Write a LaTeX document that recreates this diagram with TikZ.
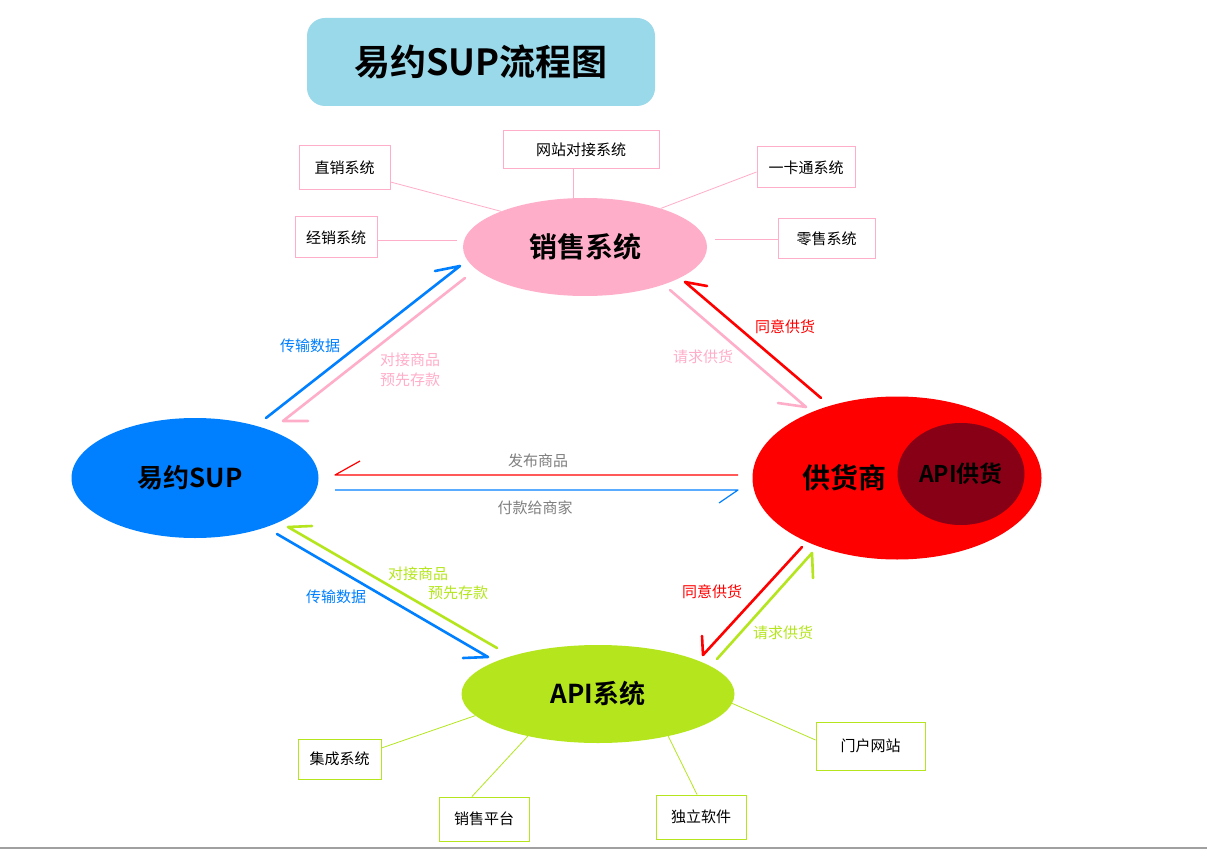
\documentclass[tikz,border=0pt]{standalone}
\usepackage{fontspec}
\setmainfont{Noto Sans CJK SC}[BoldFont={Noto Sans CJK SC Bold}]
\usetikzlibrary{shapes.geometric}
\definecolor{titlebg}{HTML}{99D9EA}
\definecolor{pinkc}{HTML}{FFAEC9}
\definecolor{bluec}{HTML}{0080FF}
\definecolor{redc}{HTML}{FF0000}
\definecolor{darkredc}{HTML}{880015}
\definecolor{greenc}{HTML}{B5E61D}
\definecolor{grayc}{HTML}{7F7F7F}
\definecolor{rulec}{HTML}{A0A0A0}
\begin{document}
\begin{tikzpicture}[x=1pt,y=-1pt,
  box/.style={draw, line width=1pt, fill=white, inner sep=0pt, font=\fontsize{15}{18}\selectfont},
  pbox/.style={box, draw=pinkc},
  gbox/.style={box, draw=greenc},
  oval/.style={ellipse, inner sep=0pt, font=\bfseries\fontsize{28}{32}\selectfont},
  pinkline/.style={draw=pinkc, line width=0.8pt},
  greenline/.style={draw=greenc, line width=0.8pt},
  arr/.style={line width=2.6pt, line cap=round, line join=round},
  thinarr/.style={line width=1.2pt, line join=round},
  lab/.style={inner sep=0pt, font=\fontsize{15}{18}\selectfont}
]
\useasboundingbox (0,0) rectangle (1207,850);
\fill[white] (0,0) rectangle (1207,850);
\draw[rulec, line width=2pt] (0,848) -- (1207,848);

% title
\node[fill=titlebg, rounded corners=18pt, minimum width=348pt, minimum height=88pt, inner sep=0pt,
  font=\bfseries\fontsize{36}{40}\selectfont] (title) at (481,62) {易约SUP流程图};

% main ellipses
\node[oval, fill=pinkc, minimum width=244pt, minimum height=98pt] (xs) at (585,247) {销售系统};
\node[oval, fill=bluec, minimum width=247pt, minimum height=120pt, font=\bfseries\fontsize{26}{30}\selectfont] (sup) at (195,478) {};
\node[font=\bfseries\fontsize{26}{30}\selectfont, inner sep=0pt] (suptxt) at (190,478) {易约SUP};
\node[oval, fill=redc, minimum width=289pt, minimum height=163pt] (gh) at (897,478) {};
\node[ellipse, fill=darkredc, minimum width=127pt, minimum height=102pt, inner sep=0pt] (apig) at (961,474) {};
\node[inner sep=0pt, font=\bfseries\fontsize{28}{32}\selectfont] (ghtxt) at (844,478) {供货商};
\node[inner sep=0pt, font=\bfseries\fontsize{23}{27}\selectfont] (apigtxt) at (961,474) {API供货};
\node[oval, fill=greenc, minimum width=273pt, minimum height=98pt, font=\bfseries\fontsize{26}{30}\selectfont] (api) at (598,694) {API系统};

% top boxes
\node[pbox, minimum width=91pt, minimum height=44pt] (zx) at (344.5,168) {直销系统};
\node[pbox, minimum width=156pt, minimum height=38pt] (wz) at (581,150) {网站对接系统};
\node[pbox, minimum width=98pt, minimum height=41pt] (yk) at (806,167.5) {一卡通系统};
\node[pbox, minimum width=82pt, minimum height=41pt] (jx) at (336,237.5) {经销系统};
\node[pbox, minimum width=97pt, minimum height=40pt] (ls) at (826.5,239) {零售系统};

\draw[pinkline] (zx.east |- 0,182) -- (xs.157);
\draw[pinkline] ([xshift=-8pt]wz.south) -- ([xshift=-8pt]wz.south |- xs.north);
\draw[pinkline] (yk.west |- 0,172) -- (xs.27);
\draw[pinkline] (jx.east |- 0,240) -- ([xshift=-6pt]xs.west |- 0,240);
\draw[pinkline] (ls.west) -- ([xshift=8pt]xs.east |- ls.west);

% bottom boxes
\node[gbox, minimum width=83pt, minimum height=40pt] (jc) at (339.5,759) {集成系统};
\node[gbox, minimum width=90pt, minimum height=44pt] (xp) at (484,819) {销售平台};
\node[gbox, minimum width=90pt, minimum height=44pt] (dl) at (701,817) {独立软件};
\node[gbox, minimum width=109pt, minimum height=48pt] (mh) at (870.5,746) {门户网站};

\draw[greenline] (jc.east |- 0,748) -- (api.190);
\draw[greenline] ([xshift=-12pt]xp.north) -- (api.211);
\draw[greenline] ([xshift=-4pt]dl.north) -- (api.329);
\draw[greenline] (mh.west |- 0,740) -- (api.356);

% arrow end points
\coordinate (a1s) at (266,418); \coordinate (a1t) at (460,266); \coordinate (a1b) at (435,271);
\coordinate (a2s) at (465,278); \coordinate (a2t) at (283,421); \coordinate (a2b) at (308,421);
\coordinate (a3s) at (670,290); \coordinate (a3t) at (806,407); \coordinate (a3b) at (778,403);
\coordinate (a4s) at (821,398); \coordinate (a4t) at (685,282); \coordinate (a4b) at (707,286);
\coordinate (a5s) at (738,475); \coordinate (a5t) at (335,475); \coordinate (a5b) at (360,461);
\coordinate (a6s) at (335,490); \coordinate (a6t) at (738,490); \coordinate (a6b) at (719,503);
\coordinate (a7s) at (277,534); \coordinate (a7t) at (488,657); \coordinate (a7b) at (463,658);
\coordinate (a8s) at (497,648); \coordinate (a8t) at (288,527); \coordinate (a8b) at (312,526);
\coordinate (a9s) at (802,547); \coordinate (a9t) at (703,655); \coordinate (a9b) at (702,636);
\coordinate (a10s) at (717,659); \coordinate (a10t) at (812,553); \coordinate (a10b) at (813,578);

\draw[arr, bluec] (a1s) -- (a1t) -- (a1b);
\draw[arr, pinkc] (a2s) -- (a2t) -- (a2b);
\draw[arr, pinkc] (a3s) -- (a3t) -- (a3b);
\draw[arr, redc] (a4s) -- (a4t) -- (a4b);
\draw[thinarr, redc] (a5s) -- (a5t) -- (a5b);
\draw[thinarr, bluec] (a6s) -- (a6t) -- (a6b);
\draw[arr, bluec] (a7s) -- (a7t) -- (a7b);
\draw[arr, greenc] (a8s) -- (a8t) -- (a8b);
\draw[arr, redc] (a9s) -- (a9t) -- (a9b);
\draw[arr, greenc] (a10s) -- (a10t) -- (a10b);

% labels
\node[lab, bluec] (l1) at (310,346) {传输数据};
\node[lab, pinkc, anchor=west] (l2a) at (380,360) {对接商品};
\node[lab, pinkc, anchor=west] (l2b) at (380,380) {预先存款};
\node[lab, pinkc] (l3) at (703,357) {请求供货};
\node[lab, redc] (l4) at (785,327) {同意供货};
\node[lab, grayc] (l5) at (538,461) {发布商品};
\node[lab, grayc] (l6) at (535,508) {付款给商家};
\node[lab, bluec] (l7) at (336,597) {传输数据};
\node[lab, greenc] (l8a) at (418,574) {对接商品};
\node[lab, greenc] (l8b) at (458,593) {预先存款};
\node[lab, redc] (l9) at (712,592) {同意供货};
\node[lab, greenc] (l10) at (783,633) {请求供货};
\end{tikzpicture}
\end{document}
